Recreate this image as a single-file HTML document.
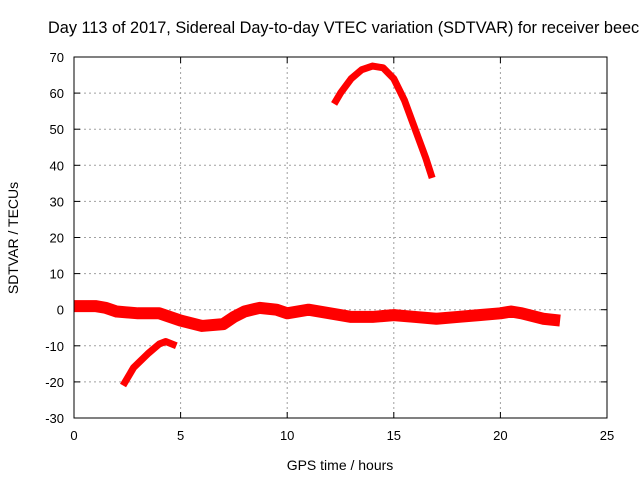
<!DOCTYPE html>
<html><head><meta charset="utf-8"><style>
body{margin:0;background:#fff;width:640px;height:480px;overflow:hidden}
svg text{font-family:"Liberation Sans",sans-serif;font-size:13px;fill:#000}
</style></head><body>
<svg width="640" height="480">
<g id="grid"></g>
<g id="ticks"></g>
<g id="series"></g>
<rect x="74" y="57" width="533" height="361" fill="none" stroke="#000" stroke-width="1"/>
<text x="48" y="33" style="font-size:16.3px">Day 113 of 2017, Sidereal Day-to-day VTEC variation (SDTVAR) for receiver beec</text>
<text x="340" y="470" text-anchor="middle" style="font-size:14px">GPS time / hours</text>
<text transform="translate(18,238) rotate(-90)" text-anchor="middle" style="font-size:14px">SDTVAR / TECUs</text>
</svg>
<script>
const xTicks=[0,5,10,15,20,25];
const yTicks=[-30,-20,-10,0,10,20,30,40,50,60,70];
const mainHours=[0,0.5,1,1.5,2,3,4,4.5,5,6,7,7.5,8,8.7,9.5,10,11,12,13,14,15,16,17,18,19,20,20.5,21,22,22.8];
const mainVals=[1,1,1,0.5,-0.5,-1,-1,-2,-3,-4.5,-4,-2,-0.5,0.5,0,-1,0,-1,-2,-2,-1.5,-2,-2.5,-2,-1.5,-1,-0.5,-1,-2.5,-3];
const arcHours=[2.3,2.8,3.5,4,4.3,4.8];
const arcVals=[-21,-16,-12,-9.5,-8.8,-10];
const peakHours=[12.2,12.5,13,13.5,14,14.5,15,15.5,16,16.5,16.8];
const peakVals=[57,60,64,66.5,67.5,67,64,58,50,42,36.5];
const X0=74,X1=607,Y0=418,Y1=57;
const sx=v=>X0+(v-0)/25*(X1-X0);
const sy=v=>Y0-(v+30)/100*(Y0-Y1);
const NS='http://www.w3.org/2000/svg';
const grid=document.getElementById('grid'),ticks=document.getElementById('ticks'),ser=document.getElementById('series');
function mk(t,a,p){const e=document.createElementNS(NS,t);for(const k in a)e.setAttribute(k,a[k]);p.appendChild(e);return e;}
xTicks.forEach(v=>{const x=sx(v);
 if(v>0&&v<25){const l=mk('line',{x1:x,x2:x,y1:Y1,y2:Y0,stroke:'#a0a0a0','stroke-dasharray':'2,3'},grid);
 }
 const t=mk('text',{x:x,y:Y0+22,'text-anchor':'middle'},ticks);t.textContent=v;
 
 mk('line',{x1:x,x2:x,y1:Y0,y2:Y0-6,stroke:'#000'},ticks);mk('line',{x1:x,x2:x,y1:Y1,y2:Y1+6,stroke:'#000'},ticks);});
yTicks.forEach(v=>{const y=sy(v);
 if(v>-30&&v<70){const l=mk('line',{x1:X0,x2:X1,y1:y,y2:y,stroke:'#a0a0a0','stroke-dasharray':'2,3'},grid);
 }
 const t=mk('text',{x:X0-10,y:y+5,'text-anchor':'end'},ticks);t.textContent=v;
 
 mk('line',{x1:X0,x2:X0+6,y1:y,y2:y,stroke:'#000'},ticks);mk('line',{x1:X1,x2:X1-6,y1:y,y2:y,stroke:'#000'},ticks);});
function line(h,v,w,name){const pts=h.map((x,i)=>sx(x)+','+sy(v[i])).join(' ');
 const p=mk('polyline',{points:pts,fill:'none',stroke:'#ff0000','stroke-width':w,'stroke-linejoin':'round','stroke-linecap':'butt'},ser);
 }
line(mainHours,mainVals,12,'series-main');
line(arcHours,arcVals,7,'series-arc');
line(peakHours,peakVals,7,'series-peak');
</script>
</body></html>
